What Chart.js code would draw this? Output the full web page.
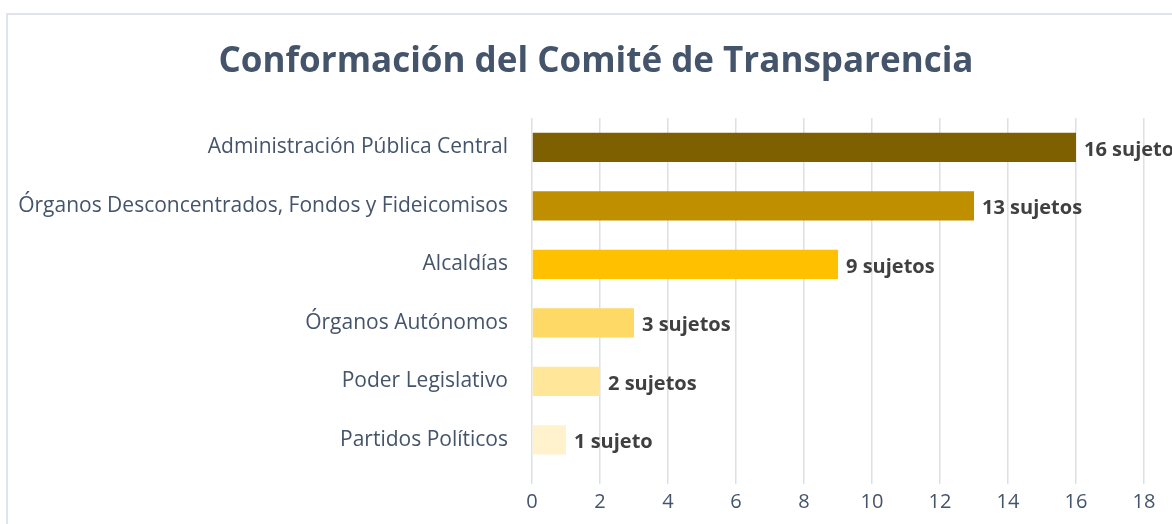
<!DOCTYPE html>
<html>
<head>
<meta charset="utf-8">
<script src="https://cdn.jsdelivr.net/npm/chart.js@4/dist/chart.umd.min.js"></script>
<style>
  html, body { margin: 0; padding: 0; background: #fff; overflow: hidden; }
  #wrap { position: relative; width: 1172px; height: 524px; }
  #frame { position: absolute; left: 6px; top: 13px; width: 1300px; height: 600px; border: 2px solid #DFE4EA; box-sizing: border-box; }
  canvas { position: absolute; left: 0; top: 0; }
</style>
</head>
<body>
<div id="wrap">
  <div id="frame"></div>
  <canvas id="c" width="1172" height="524"></canvas>
</div>
<script>
const titleText = 'Conformación del Comité de Transparencia';
const categories = [
  'Administración Pública Central',
  'Órganos Desconcentrados, Fondos y Fideicomisos',
  'Alcaldías',
  'Órganos Autónomos',
  'Poder Legislativo',
  'Partidos Políticos'
];
const values = [16, 13, 9, 3, 2, 1];
const barColors = ['#7F6000', '#BF8F00', '#FFC000', '#FFD966', '#FFE699', '#FFF2CC'];
const xTicks = [0, 2, 4, 6, 8, 10, 12, 14, 16, 18];

const FONT = "'Open Sans', sans-serif";

const valueLabels = {
  id: 'valueLabels',
  afterDatasetsDraw(chart) {
    const ctx = chart.ctx;
    const meta = chart.getDatasetMeta(0);
    ctx.save();
    ctx.font = "bold 20px " + FONT;
    ctx.fillStyle = '#404040';
    ctx.textAlign = 'left';
    ctx.textBaseline = 'middle';
    meta.data.forEach((bar, i) => {
      const v = values[i];
      const txt = v + (v === 1 ? ' sujeto' : ' sujetos');
      ctx.fillText(txt, bar.x + 8, bar.y + 3);
    });
    ctx.restore();
  }
};

const centeredTitle = {
  id: 'centeredTitle',
  afterDraw(chart) {
    const ctx = chart.ctx;
    ctx.save();
    ctx.font = "bold 35px " + FONT;
    ctx.fillStyle = '#44546A';
    ctx.textAlign = 'center';
    ctx.textBaseline = 'middle';
    ctx.fillText(titleText, 596, 62);
    ctx.restore();
  }
};

new Chart(document.getElementById('c'), {
  type: 'bar',
  data: {
    labels: categories,
    datasets: [{
      data: values,
      backgroundColor: barColors,
      borderWidth: 0,
      categoryPercentage: 1,
      barPercentage: 0.5
    }]
  },
  options: {
    indexAxis: 'y',
    responsive: false,
    animation: false,
    devicePixelRatio: 1,
    layout: { padding: { left: 0, right: 28, top: 118, bottom: 0 } },
    plugins: {
      legend: { display: false },
      tooltip: { enabled: false },
      title: { display: false }
    },
    scales: {
      x: {
        type: 'linear',
        min: 0,
        max: 18,
        afterBuildTicks(scale) { scale.ticks = xTicks.map(v => ({ value: v })); },
        afterFit(scale) { scale.height = 55; },
        ticks: { color: '#44546A', font: { family: FONT, size: 20 }, padding: 6 },
        grid: { color: '#DCE1E8', lineWidth: 1.5, tickLength: 15, drawTicks: true },
        border: { display: false }
      },
      y: {
        afterFit(scale) { scale.width = 532; },
        ticks: { color: '#44546A', font: { family: FONT, size: 21 }, padding: 24 },
        grid: { display: false, drawTicks: false },
        border: { display: false }
      }
    }
  },
  plugins: [valueLabels, centeredTitle]
});
</script>
</body>
</html>
